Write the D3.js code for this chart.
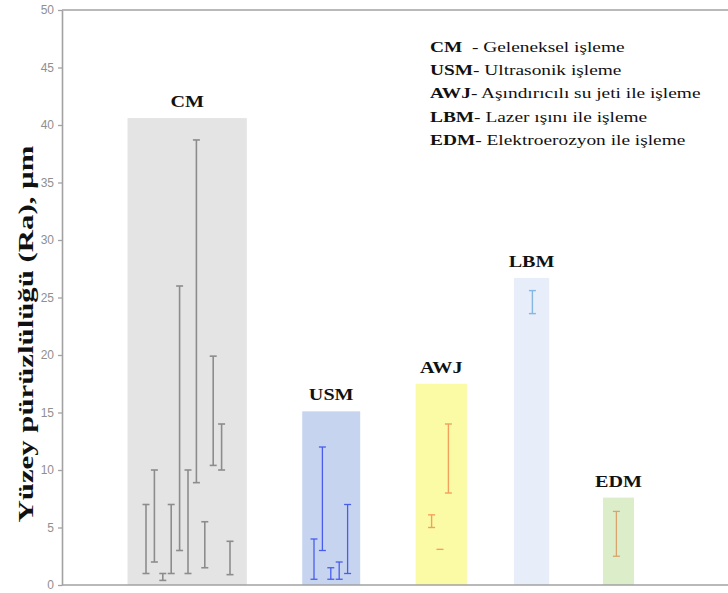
<!DOCTYPE html>
<html>
<head>
<meta charset="utf-8">
<script src="https://cdn.jsdelivr.net/npm/d3@7"></script>
<style>
  html, body { margin: 0; padding: 0; background: #fff; }
  svg { display: block; }
</style>
</head>
<body>
<svg id="chart" width="728" height="593"></svg>
<script>
// Process groups, their mean-roughness band height and the study-index span each band covers
const groups     = ["CM", "USM", "AWJ", "LBM", "EDM"];
const groupTop   = [40.6, 15.1, 17.5, 26.7, 7.6];
const groupFrom  = [-2.2, 18.6, 32.1, 43.8, 54.4];
const groupTo    = [12.0, 25.5, 38.2, 48.0, 58.1];

// Per-study roughness ranges (Ra, µm) by study index
const cmIndex  = [0, 1, 2, 3, 4, 5, 6, 7, 8, 9, 10];
const cmLow    = [1.0, 2.0, 0.4, 1.0, 3.0, 1.0, 8.9, 1.5, 10.4, 10.0, 0.9];
const cmHigh   = [7.0, 10.0, 1.0, 7.0, 26.0, 10.0, 38.7, 5.5, 19.9, 14.0, 3.8];

const usmIndex = [20, 21, 22, 23, 24];
const usmLow   = [0.5, 3.0, 0.5, 0.5, 1.0];
const usmHigh  = [4.0, 12.0, 1.5, 2.0, 7.0];

const awjIndex = [34, 35, 36];
const awjLow   = [5.0, 3.1, 8.0];
const awjHigh  = [6.1, 3.1, 14.0];

const lbmIndex = [46];
const lbmLow   = [23.6];
const lbmHigh  = [25.6];

const edmIndex = [56];
const edmLow   = [2.5];
const edmHigh  = [6.4];

const yTicks = [0, 5, 10, 15, 20, 25, 30, 35, 40, 45, 50];

const legendAbbr = ["CM", "USM", "AWJ", "LBM", "EDM"];
const legendText = ["  - Geleneksel işleme", "- Ultrasonik işleme", "- Aşındırıcılı su jeti ile işleme",
                    "- Lazer ışını ile işleme", "- Elektroerozyon ile işleme"];

const yLabel = "Yüzey pürüzlülüğü (Ra), µm";

// Styling
const bandFill  = ["#e4e4e4", "#c7d4ef", "#fbfba6", "#e7edf9", "#dcedca"];
const barStroke = ["#8c8c8c", "#4a5cf0", "#f3a05c", "#86b6e2", "#d9a46c"];
const axisGray  = "#a2a2a2";
const serif = "Liberation Serif, Times New Roman, serif";

const svg = d3.select("#chart");
const margin = { left: 62, top: 10, bottom: 585 };

const x = d3.scaleLinear().domain([-10, 70]).range([margin.left, margin.left + 8.4 * 80]);
const y = d3.scaleLinear().domain([0, 50]).range([margin.bottom, margin.top]);

// Bands for each process
const bands = groups.map((g, i) => ({ g, top: groupTop[i], from: groupFrom[i], to: groupTo[i], fill: bandFill[i] }));
svg.append("g").selectAll("rect").data(bands).join("rect")
  .attr("x", d => x(d.from))
  .attr("width", d => x(d.to) - x(d.from))
  .attr("y", d => y(d.top))
  .attr("height", d => y(0) - y(d.top))
  .attr("fill", d => d.fill);

// Process names above the bands (wide bold serif)
svg.append("g").selectAll("text").data(bands).join("text")
  .attr("transform", d => `translate(${(x(d.from) + x(d.to)) / 2},${y(d.top) - 11}) scale(1.22,1)`)
  .attr("text-anchor", "middle")
  .attr("font-family", serif)
  .attr("font-weight", "bold")
  .attr("font-size", 16.5)
  .attr("fill", "#111")
  .text(d => d.g);

// Axis frame
const yAxis = d3.axisLeft(y).tickValues(yTicks).tickSize(4).tickSizeOuter(0).tickPadding(4);
const ag = svg.append("g").attr("transform", `translate(${margin.left},0)`).call(yAxis);
ag.select(".domain").attr("stroke", axisGray).attr("stroke-width", 1.6);
ag.selectAll(".tick line").attr("stroke", axisGray).attr("stroke-width", 1.3);
ag.selectAll(".tick text")
  .attr("fill", "#8f8f8f")
  .attr("font-family", "Liberation Sans, Arial, sans-serif")
  .attr("font-size", 12);

svg.append("line")
  .attr("x1", margin.left).attr("x2", 728)
  .attr("y1", y(50)).attr("y2", y(50))
  .attr("stroke", axisGray).attr("stroke-width", 1.6);
svg.append("line")
  .attr("x1", margin.left).attr("x2", 728)
  .attr("y1", y(0)).attr("y2", y(0))
  .attr("stroke", axisGray).attr("stroke-width", 1.6);

// Range (error) bars
const sets = [
  [cmIndex, cmLow, cmHigh, barStroke[0], 1.6],
  [usmIndex, usmLow, usmHigh, barStroke[1], 1.3],
  [awjIndex, awjLow, awjHigh, barStroke[2], 1.4],
  [lbmIndex, lbmLow, lbmHigh, barStroke[3], 1.4],
  [edmIndex, edmLow, edmHigh, barStroke[4], 1.3]
];
const cap = 3.5;
sets.forEach(([idx, lo, hi, color, w]) => {
  const data = idx.map((k, i) => ({ k, lo: lo[i], hi: hi[i] }));
  const g = svg.append("g").attr("stroke", color).attr("stroke-width", w).attr("fill", "none");
  const eb = g.selectAll("g").data(data).join("g");
  eb.filter(d => d.hi > d.lo).append("line")
    .attr("x1", d => x(d.k)).attr("x2", d => x(d.k))
    .attr("y1", d => y(d.lo)).attr("y2", d => y(d.hi));
  eb.append("line")
    .attr("x1", d => x(d.k) - cap).attr("x2", d => x(d.k) + cap)
    .attr("y1", d => y(d.hi)).attr("y2", d => y(d.hi));
  eb.filter(d => d.hi > d.lo).append("line")
    .attr("x1", d => x(d.k) - cap).attr("x2", d => x(d.k) + cap)
    .attr("y1", d => y(d.lo)).attr("y2", d => y(d.lo));
});

// Y axis title
svg.append("text")
  .attr("transform", `translate(33, 334) rotate(-90) scale(1.4,1)`)
  .attr("text-anchor", "middle")
  .attr("font-family", serif)
  .attr("font-weight", "bold")
  .attr("font-size", 22)
  .attr("fill", "#111")
  .text(yLabel);

// Legend of abbreviations
const lg = svg.append("g")
  .attr("transform", "translate(430,0) scale(1.25,1)")
  .attr("font-family", serif)
  .attr("font-size", 15.5)
  .attr("fill", "#111");
const rows = lg.selectAll("text").data(legendAbbr).join("text")
  .attr("x", 0)
  .attr("y", (d, i) => 52 + i * 23.2)
  .attr("xml:space", "preserve");
rows.append("tspan").attr("font-weight", "bold").text(d => d);
rows.append("tspan").text((d, i) => legendText[i]);
</script>
</body>
</html>
